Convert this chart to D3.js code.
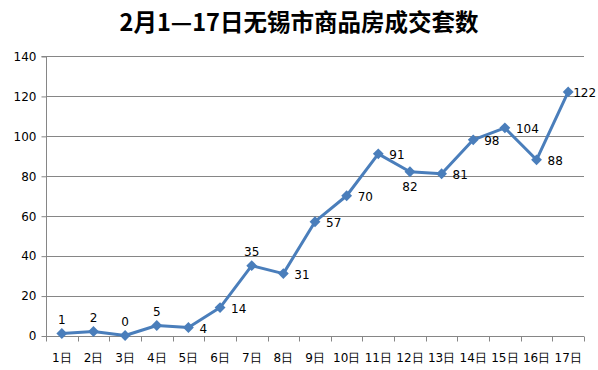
<!DOCTYPE html>
<html>
<head>
<meta charset="utf-8">
<script src="https://cdn.jsdelivr.net/npm/d3@7"></script>
<style>
body { margin: 0; background: #fff; }
svg { display: block; }
text { font-family: "DejaVu Sans", Verdana, sans-serif; fill: #000; }
</style>
</head>
<body>
<script>
const WIDTH = 598;
const HEIGHT = 370;
const LEFT = 46, RIGHT = 584, TOP = 56, BOTTOM = 335.5;

var days = ['1日','2日','3日','4日','5日','6日','7日','8日','9日','10日','11日','12日','13日','14日','15日','16日','17日'];
var sales = [1,2,0,5,4,14,35,31,57,70,91,82,81,98,104,88,122];
var yTicks = [0,20,40,60,80,100,120,140];
var labelSide = ['up','up','up','up','right','right','up','right','right','right','right','down','right','right','right','right','near'];

var svg = d3.select('body').append('svg')
	.attr('width', WIDTH)
	.attr('height', HEIGHT);

svg.append('text')
	.attr('x', WIDTH/2)
	.attr('y', 31)
	.attr('text-anchor', 'middle')
	.style('font-family', '"Noto Sans CJK SC", sans-serif')
	.style('font-weight', 'bold')
	.style('font-size', '23.5px')
	.text('2月1—17日无锡市商品房成交套数');

var xScale = d3.scaleBand()
	.domain(days)
	.range([LEFT, RIGHT]);

var yScale = d3.scaleLinear()
	.domain([0,140])
	.range([BOTTOM, TOP]);

// grid lines
svg.append('g')
	.selectAll('line')
	.data(yTicks.filter(function(d){return d > 0}))
	.enter().append('line')
	.attr('x1', LEFT)
	.attr('x2', RIGHT)
	.attr('y1', function(d){return Math.round(yScale(d)) + 0.5})
	.attr('y2', function(d){return Math.round(yScale(d)) + 0.5})
	.style('stroke', '#868686');

var yAxis = d3.axisLeft(yScale).tickValues(yTicks).tickSize(5).tickPadding(5);
var gy = svg.append('g')
	.attr('transform', 'translate(' + (LEFT + 0.5) + ',0.5)')
	.call(yAxis);
gy.select('.domain').attr('d', 'M-5,' + yScale(140) + 'H0V' + yScale(0)).style('stroke', '#868686');
gy.selectAll('.tick line').style('stroke', '#868686');
gy.selectAll('.tick text').style('font-size', '12px').attr('fill', '#000');

// x axis with ticks between categories
var gx = svg.append('g').attr('transform', 'translate(0,' + (Math.round(BOTTOM) + 0.5) + ')');
gx.append('line')
	.attr('x1', LEFT).attr('x2', RIGHT)
	.style('stroke', '#868686');
gx.selectAll('.sep')
	.data(d3.range(days.length + 1))
	.enter().append('line')
	.attr('class', 'sep')
	.attr('x1', function(i){return Math.round(LEFT + i*xScale.step()) + 0.5})
	.attr('x2', function(i){return Math.round(LEFT + i*xScale.step()) + 0.5})
	.attr('y1', 0).attr('y2', 5)
	.style('stroke', '#868686');
gx.selectAll('.lbl')
	.data(days)
	.enter().append('text')
	.attr('class', 'lbl')
	.attr('x', function(d){return xScale(d) + xScale.bandwidth()/2})
	.attr('y', 25)
	.attr('text-anchor', 'middle')
	.style('font-size', '12px')
	.text(function(d){return d});

var cx = function(d,i){return xScale(days[i]) + xScale.bandwidth()/2};
var cy = function(d){return yScale(d)};

svg.append('path')
	.datum(sales)
	.attr('d', d3.line().x(cx).y(cy))
	.style('fill', 'none')
	.style('stroke', '#4a7ebb')
	.style('stroke-width', 3)
	.style('stroke-linejoin', 'round');

svg.append('g')
	.selectAll('path')
	.data(sales)
	.enter().append('path')
	.attr('d', d3.symbol().type(d3.symbolDiamond2).size(75))
	.attr('transform', function(d,i){return 'translate(' + cx(d,i) + ',' + cy(d) + ')'})
	.style('fill', '#4a7ebb');

svg.append('g')
	.selectAll('text')
	.data(sales)
	.enter().append('text')
	.attr('x', function(d,i){
		var s = labelSide[i];
		if (s == 'right') return cx(d,i) + 11;
		if (s == 'near') return cx(d,i) + 5;
		return cx(d,i);
	})
	.attr('y', function(d,i){
		var s = labelSide[i];
		if (s == 'up') return cy(d) - 10;
		if (s == 'down') return cy(d) + 19;
		return cy(d) + 5;
	})
	.attr('text-anchor', function(d,i){return (labelSide[i] == 'right' || labelSide[i] == 'near') ? 'start' : 'middle'})
	.style('font-size', '12px')
	.text(function(d){return d});
</script>
</body>
</html>
